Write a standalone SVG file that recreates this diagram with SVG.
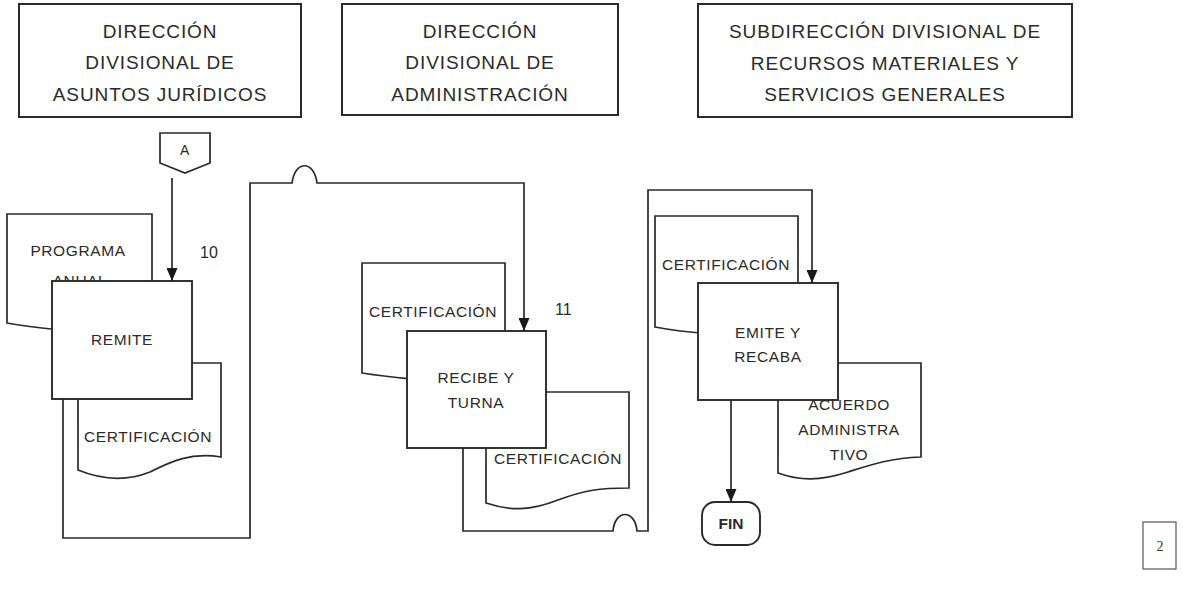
<svg xmlns="http://www.w3.org/2000/svg" width="1183" height="589" viewBox="0 0 1183 589">
  <style>
    .hdr { fill: #ffffff; stroke: #2a2a2a; stroke-width: 2; }
    .hdrt { font-family: "Liberation Sans", Arial, sans-serif; font-size: 19px; letter-spacing: 0.9px; fill: #2a2a2a; text-anchor: middle; }
    .doc { fill: #ffffff; stroke: #2a2a2a; stroke-width: 1.7; }
    .proc { fill: #ffffff; stroke: #2a2a2a; stroke-width: 1.9; }
    .t { font-family: "Liberation Sans", Arial, sans-serif; font-size: 15.5px; letter-spacing: 0.6px; fill: #2a2a2a; text-anchor: middle; }
    .num { font-family: "Liberation Sans", Arial, sans-serif; font-size: 16px; fill: #2a2a2a; }
    .conn { fill: none; stroke: #2a2a2a; stroke-width: 1.7; }
    .pg { fill: #ffffff; stroke: #555555; stroke-width: 1.2; }
  </style>
  <defs>
    <marker id="arr" viewBox="0 0 13 11" markerWidth="13" markerHeight="11" refX="13" refY="5.5" orient="auto" markerUnits="userSpaceOnUse">
      <path d="M0,0 L13,5.5 L0,11 z" fill="#1a1a1a"/>
    </marker>
  </defs>
  <rect width="1183" height="589" fill="#ffffff"/>

  <!-- Header lanes -->
  <g id="lane-juridicos">
    <rect class="hdr" x="19" y="4" width="282" height="113"/>
    <text class="hdrt" x="160" y="38">DIRECCIÓN</text>
    <text class="hdrt" x="160" y="69">DIVISIONAL DE</text>
    <text class="hdrt" x="160" y="101">ASUNTOS JURÍDICOS</text>
  </g>
  <g id="lane-administracion">
    <rect class="hdr" x="342" y="4" width="276" height="111"/>
    <text class="hdrt" x="480" y="38">DIRECCIÓN</text>
    <text class="hdrt" x="480" y="69">DIVISIONAL DE</text>
    <text class="hdrt" x="480" y="101">ADMINISTRACIÓN</text>
  </g>
  <g id="lane-recursos">
    <rect class="hdr" x="698" y="4" width="374" height="113"/>
    <text class="hdrt" x="885" y="38">SUBDIRECCIÓN DIVISIONAL DE</text>
    <text class="hdrt" x="885" y="70">RECURSOS MATERIALES Y</text>
    <text class="hdrt" x="885" y="101">SERVICIOS GENERALES</text>
  </g>

  <!-- Off-page connector A -->
  <g id="connector-a">
    <path class="doc" d="M160,133 H210 V163 L185,173 L160,163 Z"/>
    <text class="t" x="185" y="155" style="font-size:14px">A</text>
  </g>

  <!-- Step 10 -->
  <g id="doc-programa-anual">
    <path class="doc" d="M7,214 H152 V330 C120,334 95,334 78,332 C50,329 30,327 7,323 Z"/>
    <text class="t" x="78" y="256">PROGRAMA</text>
    <text class="t" x="80" y="286">ANUAL</text>
  </g>
  <g id="doc-certificacion-10">
    <path class="doc" d="M78,363 H221 V457 C190,452 170,462 150,472 C125,482 100,479 78,470 Z"/>
    <text class="t" x="148" y="442">CERTIFICACIÓN</text>
  </g>
  <g id="proc-remite">
    <rect class="proc" x="52" y="281" width="140" height="118"/>
    <text class="t" x="122" y="345">REMITE</text>
  </g>
  <text class="num" x="200" y="258">10</text>

  <!-- Step 11 -->
  <g id="doc-certificacion-11a">
    <path class="doc" d="M362,263 H505 V379 C470,381 450,383 430,381 C400,378 380,376 362,373 Z"/>
    <text class="t" x="433" y="317">CERTIFICACIÓN</text>
  </g>
  <g id="doc-certificacion-11b">
    <path class="doc" d="M486,392 H629 V488 C600,488 585,490 558,500 C530,511 510,511 486,503 Z"/>
    <text class="t" x="558" y="464">CERTIFICACIÓN</text>
  </g>
  <g id="proc-recibe">
    <rect class="proc" x="407" y="331" width="139" height="117"/>
    <text class="t" x="476" y="383">RECIBE Y</text>
    <text class="t" x="476" y="408">TURNA</text>
  </g>
  <text class="num" x="555" y="315">11</text>

  <!-- Step 12 -->
  <g id="doc-certificacion-12">
    <path class="doc" d="M655,216 H798 V333 C760,335 735,336 712,334 C685,332 670,330 655,327 Z"/>
    <text class="t" x="726" y="270">CERTIFICACIÓN</text>
  </g>
  <g id="doc-acuerdo">
    <path class="doc" d="M778,363 H921 V457 C890,458 870,465 848,472 C820,481 800,481 778,473 Z"/>
    <text class="t" x="849" y="410">ACUERDO</text>
    <text class="t" x="849" y="435">ADMINISTRA</text>
    <text class="t" x="849" y="460">TIVO</text>
  </g>
  <g id="proc-emite">
    <rect class="proc" x="698" y="283" width="140" height="117"/>
    <text class="t" x="768" y="338">EMITE Y</text>
    <text class="t" x="768" y="362">RECABA</text>
  </g>

  <!-- Terminator -->
  <g id="term-fin">
    <rect class="proc" x="702" y="502" width="58" height="43" rx="13" ry="13"/>
    <text class="t" x="731" y="529" style="font-weight:bold;letter-spacing:0">FIN</text>
  </g>

  <!-- Page number -->
  <g id="page-number">
    <rect class="pg" x="1143" y="522" width="33" height="47"/>
    <text x="1160" y="551" style="font-family:'Liberation Serif','Times New Roman',serif;font-size:14px;fill:#333333;text-anchor:middle">2</text>
  </g>

  <!-- Connectors -->
  <g id="connectors">
    <path class="conn" d="M172,178 V281" marker-end="url(#arr)"/>
    <path class="conn" d="M63,399 V538 H250 V183 H292 C295,160 314,160 317,183 H524 V331" marker-end="url(#arr)"/>
    <path class="conn" d="M463,448 V531 H613 C615,509 635,509 637,531 H648 V190 H812 V283" marker-end="url(#arr)"/>
    <path class="conn" d="M731,400 V502" marker-end="url(#arr)"/>
  </g>
</svg>
